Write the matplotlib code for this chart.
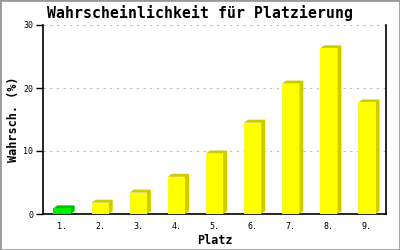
import matplotlib
matplotlib.use("Agg")
import matplotlib.pyplot as plt
from matplotlib.patches import Polygon, Rectangle

categories = ["1.", "2.", "3.", "4.", "5.", "6.", "7.", "8.", "9."]
values = [0.9, 1.8, 3.4, 5.9, 9.6, 14.5, 20.7, 26.3, 17.7]
front_colors = ["#00ee00"] + ["#ffff00"] * 8
side_colors = ["#00c000"] + ["#cccc00"] * 8
yticks = [0, 10, 20, 30]

W, H = 400, 250
fig = plt.figure(figsize=(W / 100, H / 100), dpi=100)
ax_l, ax_r, ax_t, ax_b = 43, 386, 25, 214
ax = fig.add_axes([ax_l / W, 1 - ax_b / H, (ax_r - ax_l) / W, (ax_b - ax_t) / H])

ax.set_xlim(-0.5, len(categories) - 0.5)
ax.set_ylim(0, 30)

bw = 0.45
dpx, dpy = 4, 3
dx = dpx * (len(categories)) / (ax_r - ax_l)
dy = dpy * 30 / (ax_b - ax_t)

xs = list(range(len(categories)))
for x, v, fc, sc in zip(xs, values, front_colors, side_colors):
    x0, x1 = x - bw / 2, x + bw / 2
    poly = Polygon([(x0, v), (x0 + dx, v + dy), (x1 + dx, v + dy),
                    (x1 + dx, dy), (x1, 0), (x1, v)],
                   closed=True, facecolor=sc, edgecolor="none", zorder=3)
    ax.add_patch(poly)
ax.bar(xs, values, width=bw, color=front_colors, edgecolor="none", zorder=4)

ax.set_yticks(yticks)
ax.set_yticklabels([str(t) for t in yticks], family="DejaVu Sans Mono", fontsize=6)
ax.set_xticks(xs)
ax.set_xticklabels(categories, family="DejaVu Sans Mono", fontsize=6)
ax.tick_params(axis="x", length=0, pad=6)
ax.tick_params(axis="y", length=5, width=1, direction="out", pad=2)

for t in yticks[1:]:
    ax.axhline(t, color="#bbbbbb", lw=0.8, dashes=(2, 4), zorder=1)

for s in ["left", "right", "bottom"]:
    ax.spines[s].set_color("black")
    ax.spines[s].set_linewidth(1.2)
ax.spines["top"].set_visible(False)

ax.set_xlabel("Platz", family="DejaVu Sans Mono", fontweight="bold", fontsize=8.5, labelpad=2)
ax.set_ylabel("Wahrsch. (%)", family="DejaVu Sans Mono", fontweight="bold", fontsize=8.5, labelpad=2)

fig.text(0.5, 1 - 13 / H, "Wahrscheinlichkeit für Platzierung", ha="center", va="center",
         family="DejaVu Sans Mono", fontweight="bold", fontsize=10.7)

fig.patches.append(Rectangle((0, 0), 1, 1, transform=fig.transFigure, fill=False,
                             edgecolor="#999999", lw=2))

fig.savefig("out.png", dpi=100)
